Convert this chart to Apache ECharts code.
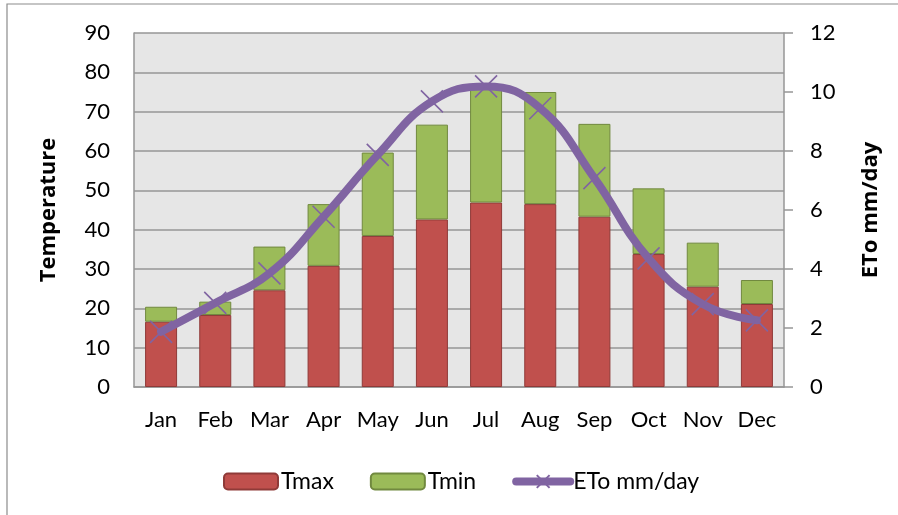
<!DOCTYPE html>
<html>
<head>
<meta charset="utf-8">
<script src="https://cdn.jsdelivr.net/npm/echarts@6/dist/echarts.min.js"></script>
<style>
  html, body { margin: 0; padding: 0; background: #fff; }
  #chart { width: 898px; height: 515px; }
</style>
</head>
<body>
<div id="chart"></div>
<script>
  // data
  var months = ['Jan', 'Feb', 'Mar', 'Apr', 'May', 'Jun', 'Jul', 'Aug', 'Sep', 'Oct', 'Nov', 'Dec'];
  var tmax = [16.6, 18.3, 24.6, 30.8, 38.4, 42.6, 46.9, 46.5, 43.3, 33.8, 25.5, 21.1];
  var tmin = [3.8, 3.4, 11.1, 15.7, 21.2, 24.1, 29.2, 28.5, 23.6, 16.7, 11.2, 6.1];
  var eto = [1.87, 2.85, 3.85, 5.77, 7.87, 9.68, 10.19, 9.45, 7.08, 4.36, 2.81, 2.26];

  var font = 'Lato, "Open Sans", sans-serif';
  var titleFont = '"Open Sans", Lato, sans-serif';
  var gridColor = '#969696';
  var purple = '#8064a2';

  var chart = echarts.init(document.getElementById('chart'));
  var option = {
    textStyle: { fontFamily: font },
    graphic: [{
      type: 'rect',
      shape: { x: 7, y: 4, width: 900, height: 520 },
      style: { fill: 'none', stroke: '#8c8c8c', lineWidth: 1.2 },
      silent: true
    }],
    grid: {
      left: 134, right: 114, top: 33, bottom: 128,
      show: true, backgroundColor: '#e6e6e6', borderWidth: 0
    },
    legend: {
      left: 218, top: 465,
      itemWidth: 54, itemHeight: 16, itemGap: 36,
      textStyle: { fontSize: 23, color: '#000', fontFamily: font, padding: [0, 0, 0, -2] },
      data: ['Tmax', 'Tmin', {
        name: 'ETo mm/day',
        lineStyle: { width: 8, cap: 'round' }
      }]
    },
    xAxis: {
      type: 'category',
      data: months,
      axisLine: { lineStyle: { color: gridColor, width: 1.5 } },
      axisTick: { show: false },
      axisLabel: { fontSize: 22, color: '#000', margin: 22, interval: 0, hideOverlap: false }
    },
    yAxis: [{
      type: 'value',
      min: 0, max: 90, interval: 10,
      name: 'Temperature',
      nameLocation: 'middle',
      nameGap: 74,
      nameTextStyle: { fontSize: 22, fontWeight: 'bold', color: '#000', fontFamily: titleFont },
      axisLine: { show: true, lineStyle: { color: gridColor, width: 1.5 } },
      axisTick: { show: false },
      axisLabel: { fontSize: 22, color: '#000', margin: 24 },
      splitLine: { lineStyle: { color: gridColor, width: 1.5 } }
    }, {
      type: 'value',
      min: 0, max: 12, interval: 2,
      name: 'ETo mm/day',
      nameLocation: 'middle',
      nameGap: 76,
      nameRotate: 90,
      nameTextStyle: { fontSize: 22, fontWeight: 'bold', color: '#000', fontFamily: titleFont },
      axisLine: { show: true, lineStyle: { color: gridColor, width: 1.5 } },
      axisTick: { show: true, length: 9, lineStyle: { color: gridColor, width: 1.5 } },
      axisLabel: { fontSize: 22, color: '#000', margin: 26 },
      splitLine: { show: false }
    }],
    series: [{
      name: 'Tmax',
      type: 'bar',
      stack: 'temp',
      barWidth: 32,
      data: tmax,
      itemStyle: { color: '#c0504d', borderColor: '#8f3a38', borderWidth: 1 }
    }, {
      name: 'Tmin',
      type: 'bar',
      stack: 'temp',
      barWidth: 32,
      data: tmin,
      itemStyle: { color: '#9bbb59', borderColor: '#71893f', borderWidth: 1 }
    }, {
      name: 'ETo mm/day',
      type: 'line',
      yAxisIndex: 1,
      smooth: 0.45,
      data: eto,
      symbol: 'path://M0 0L10 10M10 0L0 10',
      symbolSize: 22,
      lineStyle: { color: purple, width: 8, cap: 'round' },
      itemStyle: { color: purple, borderColor: purple, borderWidth: 1.6 },
      z: 5
    }]
  };
  chart.setOption(option);
</script>
</body>
</html>
